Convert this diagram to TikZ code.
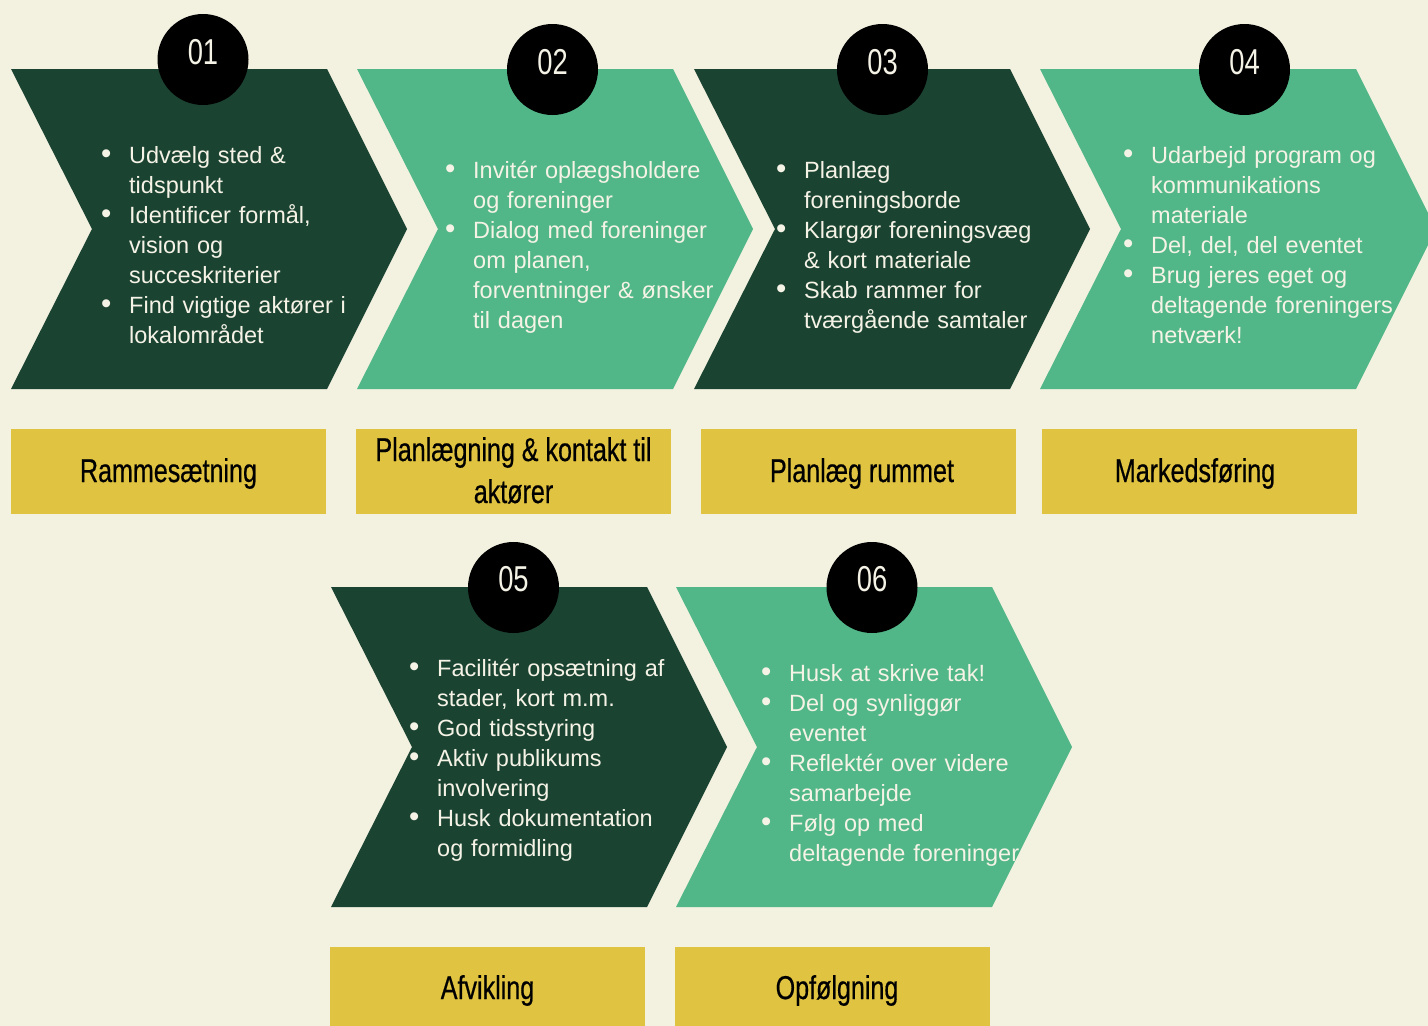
\documentclass[tikz,border=0pt]{standalone}
\usepackage{fontspec}
\setmainfont{Liberation Sans}
\newfontfamily\condf[FakeStretch=0.76]{Liberation Sans}
\newfontfamily\condlab[FakeStretch=0.76,FakeBold=0.5]{Liberation Sans}
\setlength{\parskip}{0pt}
\definecolor{bg}{RGB}{243,241,224}
\definecolor{dkg}{RGB}{27,67,50}
\definecolor{ltg}{RGB}{82,183,136}
\definecolor{ylw}{RGB}{224,195,65}
\definecolor{crm}{RGB}{245,243,230}
\newcommand\bitem[1]{\noindent\hangindent=29pt\hangafter=1\makebox[29pt][l]{\hspace*{1pt}\scalebox{1.25}{•}}#1\par}
\newcommand\chevshape[3]{\fill[#3] (#1,#2) -- ++(316,0) -- ++(80,160) -- ++(-80,160) -- ++(-316,0) -- ++(81,-160) -- cycle;}
\tikzset{
 numcirc/.style={circle, fill=black, minimum size=91pt, inner sep=0pt},
 numtext/.style={font=\condf\fontsize{36}{36}\selectfont, text=crm, inner sep=0pt},
 labelbox/.style={fill=ylw, minimum width=315pt, minimum height=85pt, inner sep=0pt, anchor=north west},
 labtext/.style={font=\condlab\fontsize{33}{42}\selectfont, inner sep=0pt, anchor=base},
 bodytext/.style={font=\fontsize{23.5}{30}\selectfont, text=crm, text width=340pt, inner sep=0pt, anchor=base west},
}
\begin{document}
\begin{tikzpicture}[x=1pt,y=-1pt]
\useasboundingbox (0,0) rectangle (1428,1026);
\fill[bg] (0,0) rectangle (1428,1026);
% chevrons
\chevshape{11}{69}{dkg}
\chevshape{357}{69}{ltg}
\chevshape{694}{69}{dkg}
\chevshape{1040}{69}{ltg}
\chevshape{331}{587}{dkg}
\chevshape{676}{587}{ltg}
% circles
\node[numcirc] (k1) at (203,59.5) {};
\node[numcirc] (k2) at (552.5,69.5) {};
\node[numcirc] (k3) at (882.5,69.5) {};
\node[numcirc] (k4) at (1244.5,69.5) {};
\node[numcirc] (k5) at (513.5,587.5) {};
\node[numcirc] (k6) at (872,587.5) {};
\node[numtext] (n1) at (203,52) {01};
\node[numtext] (n2) at (552.5,62) {02};
\node[numtext] (n3) at (882.5,62) {03};
\node[numtext] (n4) at (1244.5,62) {04};
\node[numtext] (n5) at (513.5,579.5) {05};
\node[numtext] (n6) at (872,579.5) {06};
% body texts
\node[bodytext] (t1) at (100,163) {\bitem{Udvælg sted \&\newline tidspunkt}\bitem{Identificer formål,\newline vision og\newline succeskriterier}\bitem{Find vigtige aktører i\newline lokalområdet}};
\node[bodytext] (t2) at (444,178) {\bitem{Invitér oplægsholdere\newline og foreninger}\bitem{Dialog med foreninger\newline om planen,\newline forventninger \& ønsker\newline til dagen}};
\node[bodytext] (t3) at (775,178) {\bitem{Planlæg\newline foreningsborde}\bitem{Klargør foreningsvæg\newline \& kort materiale}\bitem{Skab rammer for\newline tværgående samtaler}};
\node[bodytext] (t4) at (1122,163) {\bitem{Udarbejd program og\newline kommunikations\newline materiale}\bitem{Del, del, del eventet}\bitem{Brug jeres eget og\newline deltagende foreningers\newline netværk!}};
\node[bodytext] (t5) at (408,676) {\bitem{Facilitér opsætning af\newline stader, kort m.m.}\bitem{God tidsstyring}\bitem{Aktiv publikums\newline involvering}\bitem{Husk dokumentation\newline og formidling}};
\node[bodytext] (t6) at (760,681) {\bitem{Husk at skrive tak!}\bitem{Del og synliggør\newline eventet}\bitem{Reflektér over videre\newline samarbejde}\bitem{Følg op med\newline deltagende foreninger}};
% label boxes
\node[labelbox] (b1) at (11,429) {};
\node[labelbox] (b2) at (356,429) {};
\node[labelbox] (b3) at (701,429) {};
\node[labelbox] (b4) at (1042,429) {};
\node[labelbox] (b5) at (330,947) {};
\node[labelbox] (b6) at (675,947) {};
\node[labtext] (l1) at (168.5,482) {Rammesætning};
\node[labtext] (l2a) at (513.5,461) {Planlægning \& kontakt til};
\node[labtext] (l2b) at (513.5,503) {aktører};
\node[labtext] (l3) at (862,482) {Planlæg rummet};
\node[labtext] (l4) at (1195,482) {Markedsføring};
\node[labtext] (l5) at (487.5,999) {Afvikling};
\node[labtext] (l6) at (837,999) {Opfølgning};
\end{tikzpicture}
\end{document}
